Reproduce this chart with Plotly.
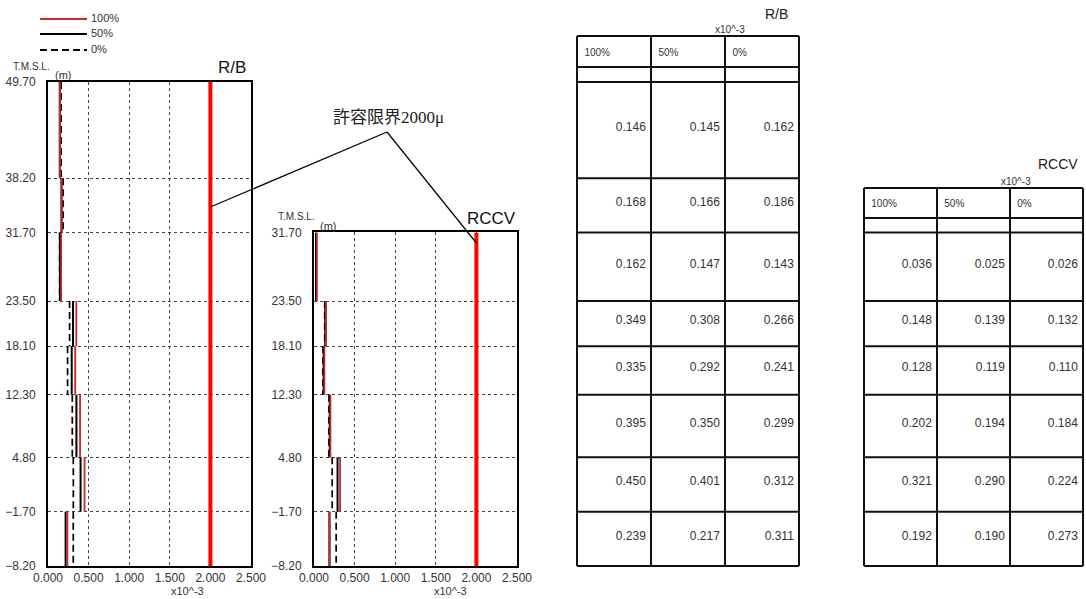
import plotly.graph_objects as go

# ---------------- data ----------------
elev_rb = [49.70, 38.20, 31.70, 23.50, 18.10, 12.30, 4.80, -1.70, -8.20]
elev_rccv = [31.70, 23.50, 18.10, 12.30, 4.80, -1.70, -8.20]
series_names = ["100%", "50%", "0%"]
rb_100 = [0.146, 0.168, 0.162, 0.349, 0.335, 0.395, 0.450, 0.239]
rb_50 = [0.145, 0.166, 0.147, 0.308, 0.292, 0.350, 0.401, 0.217]
rb_0 = [0.162, 0.186, 0.143, 0.266, 0.241, 0.299, 0.312, 0.311]
rccv_100 = [0.036, 0.148, 0.128, 0.202, 0.321, 0.192]
rccv_50 = [0.025, 0.139, 0.119, 0.194, 0.290, 0.190]
rccv_0 = [0.026, 0.132, 0.110, 0.184, 0.224, 0.273]
limit_value = 2.0
limit_label = "許容限界2000μ"
x_ticks = [0.0, 0.5, 1.0, 1.5, 2.0, 2.5]
unit_label = "x10^-3"

# ---------------- geometry ----------------
W, H = 1086, 599
TOP_PX, BOT_PX = 82, 566
PPM = (BOT_PX - TOP_PX) / (elev_rb[0] - elev_rb[-1])


def e2px(e):
    return TOP_PX + (elev_rb[0] - e) * PPM


def px2e(p):
    return elev_rb[0] - (p - TOP_PX) / PPM


def fx(px):
    return px / W


def fy(py):
    return 1 - py / H


RB_L, RB_R = 48, 251
RC_L, RC_R = 314, 517

FONT = "Liberation Sans, Arial, sans-serif"
TXT = "#333333"
RED_LIM = "#ff0000"
STYLES = {
    "100%": dict(color="#c62828", width=1.8, dash="solid"),
    "50%": dict(color="#000000", width=2.0, dash="solid"),
    "0%": dict(color="#000000", width=1.7, dash="7px,4px"),
}

fig = go.Figure()


def step_xy(bounds, vals):
    xs, ys = [], []
    for i, v in enumerate(vals):
        xs += [v, v, None]
        ys += [bounds[i], bounds[i + 1], None]
    return xs, ys


def add_chart(bounds, series, xa, ya):
    for name in ["0%", "50%", "100%"]:
        xs, ys = step_xy(bounds, series[name])
        st = STYLES[name]
        fig.add_trace(go.Scatter(x=xs, y=ys, mode="lines", name=name, connectgaps=False,
                                 line=dict(color=st["color"], width=st["width"], dash=st["dash"]),
                                 xaxis=xa, yaxis=ya, showlegend=False, hoverinfo="skip"))
    fig.add_trace(go.Scatter(x=[limit_value, limit_value], y=[bounds[0], bounds[-1]], mode="lines",
                             line=dict(color=RED_LIM, width=4), xaxis=xa, yaxis=ya,
                             showlegend=False, hoverinfo="skip"))


add_chart(elev_rb, {"100%": rb_100, "50%": rb_50, "0%": rb_0}, "x", "y")
add_chart(elev_rccv, {"100%": rccv_100, "50%": rccv_50, "0%": rccv_0}, "x2", "y2")


# ---------------- tables ----------------
def add_table(bounds, cols, xa, top_px, hdr_px):
    e_top = px2e(top_px)
    e_hdr = px2e(hdr_px)
    lx, ly = [], []
    for c in range(4):
        lx += [c, c, None]
        ly += [e_top, bounds[-1], None]
    for e in [e_top, e_hdr] + list(bounds):
        lx += [0, 3, None]
        ly += [e, e, None]
    fig.add_trace(go.Scatter(x=lx, y=ly, mode="lines", line=dict(color="#111111", width=2),
                             xaxis=xa, yaxis="y3", showlegend=False, hoverinfo="skip"))
    tx, ty, tt = [], [], []
    for c, vals in enumerate(cols):
        for i, v in enumerate(vals):
            tx.append(c + 1 - 0.07)
            ty.append((bounds[i] + bounds[i + 1]) / 2 + 0.25)
            tt.append(f"{v:.3f}")
    fig.add_trace(go.Scatter(x=tx, y=ty, text=tt, mode="text", textposition="middle left",
                             textfont=dict(family=FONT, size=12, color=TXT),
                             xaxis=xa, yaxis="y3", showlegend=False, hoverinfo="skip"))
    hx = [c + 0.1 for c in range(3)]
    hy = [(e_top + e_hdr) / 2 - 0.2] * 3
    fig.add_trace(go.Scatter(x=hx, y=hy, text=series_names, mode="text", textposition="middle right",
                             textfont=dict(family=FONT, size=10, color=TXT),
                             xaxis=xa, yaxis="y3", showlegend=False, hoverinfo="skip"))


add_table(elev_rb, [rb_100, rb_50, rb_0], "x3", 36, 67)
add_table(elev_rccv, [rccv_100, rccv_50, rccv_0], "x4", 188, 218)

# ---------------- axes ----------------
axis_common = dict(showline=True, linecolor="#000000", linewidth=2, mirror=True,
                   showgrid=True, gridcolor="#444444", griddash="dot", gridwidth=1,
                   zeroline=False, tickfont=dict(family=FONT, size=12, color=TXT),
                   ticks="", fixedrange=True, automargin=False)

xax = dict(axis_common, range=[x_ticks[0], x_ticks[-1]], tickvals=x_ticks, tickformat=".3f",
           ticklabelstandoff=0)
yax_rb = dict(axis_common, range=[elev_rb[-1], elev_rb[0]], tickvals=elev_rb, tickformat=".2f",
              ticklabelstandoff=8)
yax_rc = dict(axis_common, range=[elev_rccv[-1], elev_rccv[0]], tickvals=elev_rccv, tickformat=".2f",
              ticklabelstandoff=8)
hidden = dict(visible=False, fixedrange=True, automargin=False)

cw3 = (799 - 577) / 3
cw4 = (1083 - 864) / 3

fig.update_layout(
    width=W, height=H, margin=dict(l=0, r=0, t=0, b=0, pad=0, autoexpand=False),
    paper_bgcolor="white", plot_bgcolor="white", showlegend=False,
    font=dict(family=FONT, color=TXT),
    xaxis=dict(xax, domain=[fx(RB_L), fx(RB_R)], anchor="y"),
    yaxis=dict(yax_rb, domain=[fy(BOT_PX), fy(e2px(elev_rb[0]))], anchor="x"),
    xaxis2=dict(xax, domain=[fx(RC_L), fx(RC_R)], anchor="y2"),
    yaxis2=dict(yax_rc, domain=[fy(BOT_PX), fy(e2px(elev_rccv[0]))], anchor="x2"),
    xaxis3=dict(hidden, domain=[fx(569), fx(807)], range=[-8 / cw3, 3 + 8 / cw3], anchor="y3"),
    xaxis4=dict(hidden, domain=[fx(856), fx(1086)], range=[-8 / cw4, 3 + 3 / cw4], anchor="y3"),
    yaxis3=dict(hidden, domain=[0, 1], range=[px2e(H), px2e(0)], anchor="x3"),
)

# ---------------- annotations ----------------
ann = []


def txt(x, y, s, size, xanchor="center", color=TXT, family=FONT):
    ann.append(dict(x=fx(x), y=fy(y), xref="paper", yref="paper", text=s, showarrow=False,
                    xanchor=xanchor, yanchor="middle", font=dict(family=family, size=size, color=color)))


# chart titles / axis labels
txt(232, 67, "R/B", 17, color="#111111")
txt(491, 218, "RCCV", 17, color="#111111")
txt(31, 66, "T.M.S.L.", 10)
txt(63, 75, "(m)", 11)
txt(296, 216, "T.M.S.L.", 10)
txt(328, 226, "(m)", 11)
txt(187, 591, unit_label, 11)
txt(450, 591, unit_label, 11)
# table titles
txt(776, 14, "R/B", 14, color="#222222")
txt(730, 29, unit_label, 10)
txt(1058, 164, "RCCV", 14, color="#222222")
txt(1016, 181, unit_label, 10)
# limit label
txt(388, 117, limit_label, 17, color="#222222", family="Liberation Serif, Noto Sans CJK JP, serif")

# legend
shapes = []
leg_y = [19, 34, 50]
for name, yy in zip(series_names, leg_y):
    st = STYLES[name]
    shapes.append(dict(type="line", xref="paper", yref="paper", x0=fx(40), x1=fx(87), y0=fy(yy), y1=fy(yy),
                       line=dict(color=st["color"], width=2, dash=st["dash"])))
    txt(89, yy - 1, name, 11, xanchor="left")

# leader lines from the limit label to both limit lines
apex = (387, 132)
left_end = (RB_L + (limit_value - x_ticks[0]) / (x_ticks[-1] - x_ticks[0]) * (RB_R - RB_L), 207)
right_end = (RC_L + (limit_value - x_ticks[0]) / (x_ticks[-1] - x_ticks[0]) * (RC_R - RC_L), 243)
for end in (left_end, right_end):
    shapes.append(dict(type="line", xref="paper", yref="paper", x0=fx(apex[0]), y0=fy(apex[1]),
                       x1=fx(end[0]), y1=fy(end[1]), line=dict(color="#000000", width=1.2)))

fig.update_layout(annotations=ann, shapes=shapes)

fig.write_html("out.html", config={"displayModeBar": False},
               post_script="document.body.style.margin='0px';document.body.style.overflow='hidden';")
